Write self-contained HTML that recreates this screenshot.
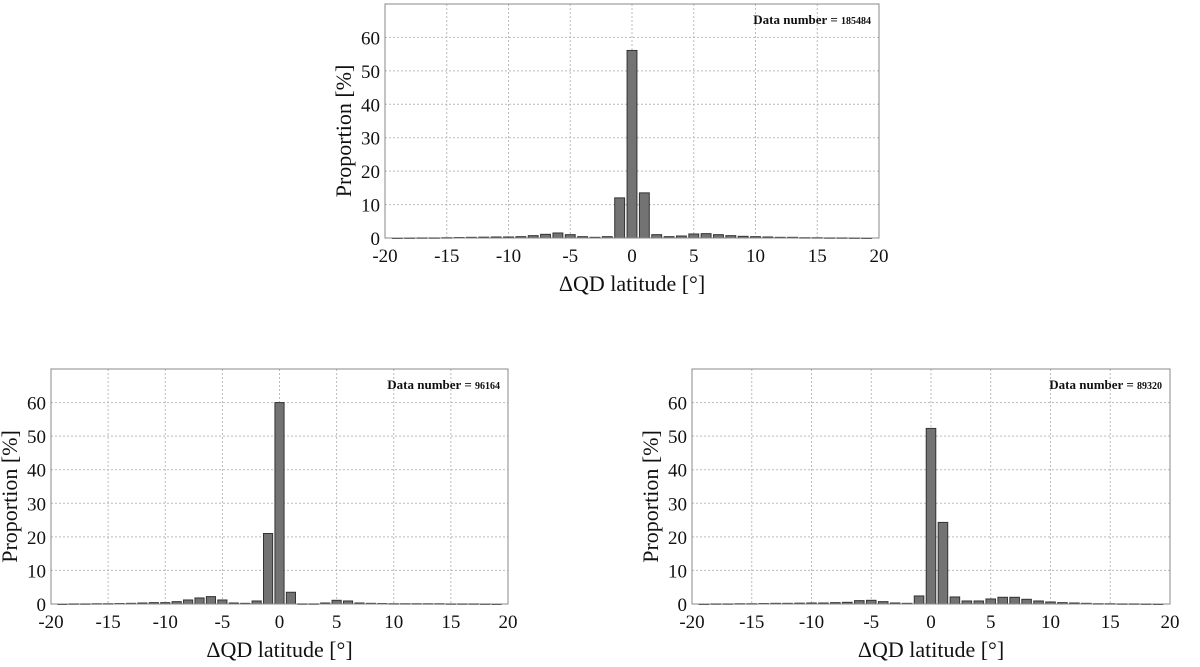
<!DOCTYPE html>
<html><head><meta charset="utf-8"><style>
body{margin:0;background:#fff}
svg{display:block;font-family:"Liberation Serif",serif}
</style></head><body>
<svg id="fig" width="1200" height="667" viewBox="0 0 1200 667" xmlns="http://www.w3.org/2000/svg"></svg>
<script>
const bins=[-19,-18,-17,-16,-15,-14,-13,-12,-11,-10,-9,-8,-7,-6,-5,-4,-3,-2,-1,0,1,2,3,4,5,6,7,8,9,10,11,12,13,14,15,16,17,18,19];
const topVals=[0,0.02,0.05,0.05,0.1,0.15,0.2,0.25,0.3,0.3,0.4,0.7,1.1,1.5,1.0,0.4,0.2,0.4,12.0,56.1,13.5,1.0,0.4,0.6,1.2,1.3,1.0,0.7,0.5,0.4,0.3,0.2,0.2,0.1,0.1,0.05,0.05,0.02,0];
const leftVals=[0,0.05,0.05,0.1,0.1,0.15,0.2,0.3,0.4,0.4,0.7,1.2,1.8,2.2,1.2,0.3,0.2,0.9,21.0,60.0,3.5,0.05,0.05,0.3,1.1,0.9,0.3,0.2,0.15,0.1,0.1,0.1,0.1,0.1,0.05,0.05,0.05,0.02,0];
const rightVals=[0,0.05,0.05,0.1,0.1,0.15,0.2,0.2,0.25,0.3,0.3,0.4,0.5,1.0,1.1,0.7,0.3,0.2,2.4,52.3,24.3,2.1,0.9,0.9,1.5,2.0,2.0,1.4,0.9,0.6,0.4,0.3,0.2,0.1,0.1,0.05,0.05,0.02,0];
const xTicks=[-20,-15,-10,-5,0,5,10,15,20];
const yTicks=[0,10,20,30,40,50,60];
const panels=[
 {name:'top',vals:topVals,count:'185484',x0:385,x1:879,y0:4,y1:238},
 {name:'bottom-left',vals:leftVals,count:'96164',x0:51,x1:508,y0:369,y1:604},
 {name:'bottom-right',vals:rightVals,count:'89320',x0:692,x1:1170,y0:369,y1:604}
];
const NS='http://www.w3.org/2000/svg';
const svg=document.getElementById('fig');
function mk(tag,attrs,parent,text){const e=document.createElementNS(NS,tag);for(const k in attrs)e.setAttribute(k,attrs[k]);if(text!==undefined)e.textContent=text;parent.appendChild(e);return e;}
panels.forEach(p=>{
 const g=mk('g',{},svg);
 
 
 const sx=v=>p.x0+(v+20)/40*(p.x1-p.x0);
 const sy=v=>p.y1-v/70*(p.y1-p.y0);
 mk('rect',{x:p.x0,y:p.y0,width:p.x1-p.x0,height:p.y1-p.y0,fill:'#fff'},g);
 xTicks.forEach(t=>{
  const l=mk('line',{x1:sx(t),x2:sx(t),y1:p.y0,y2:p.y1,stroke:'#bbb','stroke-dasharray':'2,2','stroke-width':1},g);
  
  
  const tx=mk('text',{x:sx(t),y:p.y1+24,'text-anchor':'middle','font-size':19,fill:'#111'},g,String(t));
  
  
 });
 yTicks.forEach(t=>{
  if(t>0){const l=mk('line',{x1:p.x0,x2:p.x1,y1:sy(t),y2:sy(t),stroke:'#bbb','stroke-dasharray':'2,2','stroke-width':1},g);
  
  }
  const tx=mk('text',{x:p.x0-5,y:sy(t)+7,'text-anchor':'end','font-size':19,fill:'#111'},g,String(t));
  
  
 });
 const bw=0.8*(p.x1-p.x0)/40;
 bins.forEach((b,i)=>{
  const v=p.vals[i];
  const r=mk('rect',{x:sx(b)-bw/2,y:sy(v),width:bw,height:Math.max(0.5,p.y1-sy(v)),fill:'#737373',stroke:'#333','stroke-width':1},g);
  
  
 });
 const fr=mk('rect',{x:p.x0,y:p.y0,width:p.x1-p.x0,height:p.y1-p.y0,fill:'none',stroke:'#888','stroke-width':1},g);
 
 
 const dn=mk('text',{x:p.x1-8,y:p.y0+20,'text-anchor':'end','font-weight':'bold',fill:'#111'},g);
 
 
 mk('tspan',{'font-size':13},dn,'Data number = ');
 mk('tspan',{'font-size':10},dn,p.count);
 const xl=mk('text',{x:(p.x0+p.x1)/2,y:p.y1+53,'text-anchor':'middle','font-size':22,fill:'#111'},g,'ΔQD latitude [°]');
 
 
 const cy=(p.y0+p.y1)/2+10;
 const yl=mk('text',{x:p.x0-34,y:cy,'text-anchor':'middle','font-size':22,fill:'#111',transform:`rotate(-90 ${p.x0-34} ${cy})`},g,'Proportion [%]');
 
 
});
</script>
</body></html>
